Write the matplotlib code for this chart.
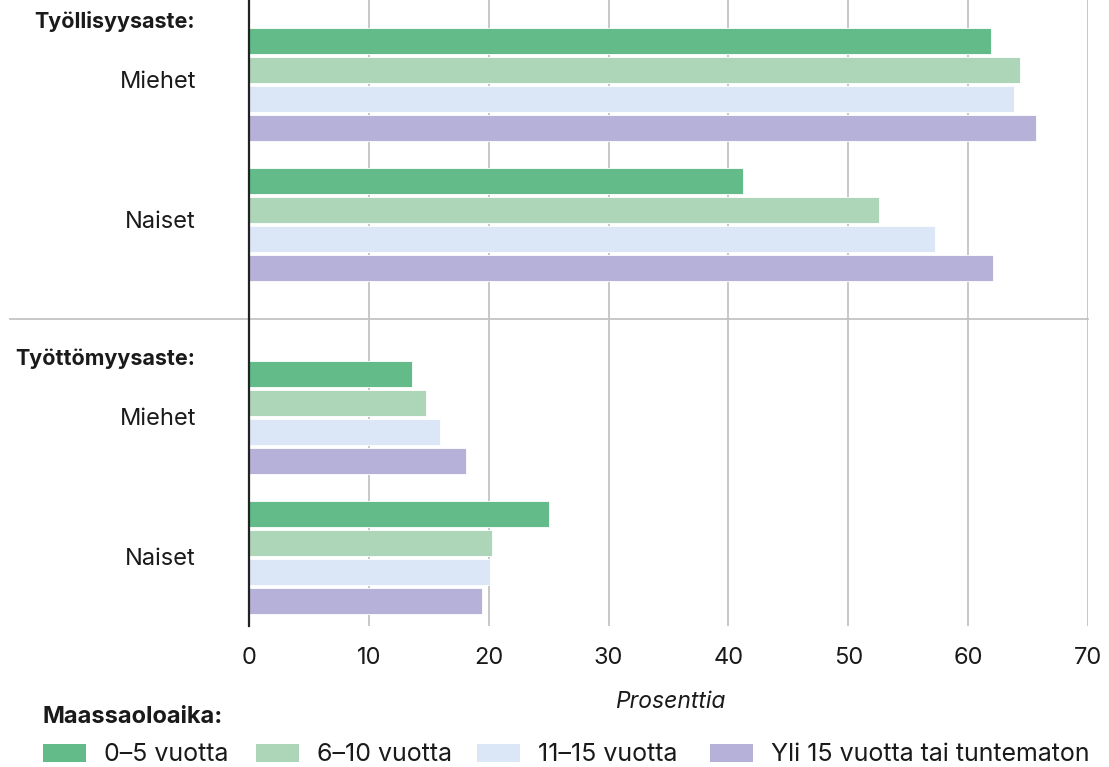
import matplotlib
matplotlib.use("Agg")
import matplotlib.pyplot as plt
import numpy as np
from matplotlib.patches import Rectangle

plt.rcParams['font.family'] = ['Inter', 'DejaVu Sans']

sections = ["Työllisyysaste:", "Työttömyysaste:"]
groups = ["Miehet", "Naiset"]
series = ["0–5 vuotta", "6–10 vuotta", "11–15 vuotta", "Yli 15 vuotta tai tuntematon"]
colors = ["#62BB89", "#ADD6B8", "#DBE7F7", "#B5B1D9"]

tyollisyys_miehet = [61.9, 64.3, 63.8, 65.7]
tyollisyys_naiset = [41.2, 52.6, 57.2, 62.1]
tyottomyys_miehet = [13.6, 14.8, 15.9, 18.1]
tyottomyys_naiset = [25.0, 20.3, 20.1, 19.4]
values = [[tyollisyys_miehet, tyollisyys_naiset],
          [tyottomyys_miehet, tyottomyys_naiset]]

xticks = [0, 10, 20, 30, 40, 50, 60, 70]
xlabel = "Prosenttia"
legend_title = "Maassaoloaika:"

TXT = "#1a1a1a"
W, H = 1109, 767
fig = plt.figure(figsize=(W / 100, H / 100), dpi=100)
ax_left, ax_right, ax_top, ax_bot = 249, 1088, 0, 626
ax = fig.add_axes([ax_left / W, 1 - ax_bot / H, (ax_right - ax_left) / W, (ax_bot - ax_top) / H])

# layout (units of group pitch = 140 px)
PX = 1 / 140
section_gap = (417.5 - 84.5) * PX
bar_pitch = 29 * PX
bar_h = 26 * PX

for si in range(2):
    for gi in range(2):
        c = si * section_gap + gi
        for k in range(4):
            y = c + (k - 1.5) * bar_pitch
            ax.barh(y, values[si][gi][k], height=bar_h, color=colors[k],
                    edgecolor="white", linewidth=0.6, zorder=3)

ax.set_xlim(0, 70)
top_lim = -84.5 * PX
bot_lim = (626 - 84.5) * PX
ax.set_ylim(bot_lim, top_lim)

ax.set_xticks(xticks)
ax.set_xticklabels([str(t) for t in xticks], fontsize=17, color=TXT)
ax.tick_params(axis='x', length=0, pad=15)
ax.set_yticks([])
ax.grid(axis='x', color="#C4C4C4", linewidth=1.3, zorder=0)
for sp in ["top", "right", "bottom"]:
    ax.spines[sp].set_visible(False)
ax.spines["left"].set_color("#222222")
ax.spines["left"].set_linewidth(1.6)
ax.spines["left"].set_zorder(5)

# separator
sep = (319 - 84.5) * PX
ax.axhline(sep, xmin=(10 - ax_left) / (ax_right - ax_left), xmax=1.0,
           color="#C4C4C4", linewidth=1.3, clip_on=False, zorder=1)

# group labels
lab_x = -53 / (ax_right - ax_left) * 70
label_offsets = [3.5, 7.5]
for si in range(2):
    for gi in range(2):
        c = si * section_gap + gi
        ax.text(lab_x, c + label_offsets[si] * PX, groups[gi],
                ha="right", va="baseline", fontsize=17, color=TXT)

# section headers
fig.text(195 / W, 1 - 28 / H, sections[0], ha="right", va="baseline",
         fontsize=15.5, fontweight="bold", color=TXT)
fig.text(195 / W, 1 - 365 / H, sections[1], ha="right", va="baseline",
         fontsize=15.5, fontweight="bold", color=TXT)

# x label
fig.text(670 / W, 1 - 708 / H, xlabel, ha="center", va="baseline",
         fontsize=16.5, style="italic", color=TXT)

# legend (manual)
fig.text(43 / W, 1 - 723 / H, legend_title, ha="left", va="baseline",
         fontsize=17, fontweight="bold", color=TXT)
handle_x = [43, 256, 477, 710]
for hx, c, lab in zip(handle_x, colors, series):
    fig.patches.append(Rectangle((hx / W, 1 - 762 / H), 43 / W, 18 / H,
                                 transform=fig.transFigure, facecolor=c,
                                 edgecolor="none"))
    fig.text((hx + 61) / W, 1 - 761 / H, lab, ha="left", va="baseline",
             fontsize=18, color=TXT)

fig.savefig("out.png", dpi=100)
